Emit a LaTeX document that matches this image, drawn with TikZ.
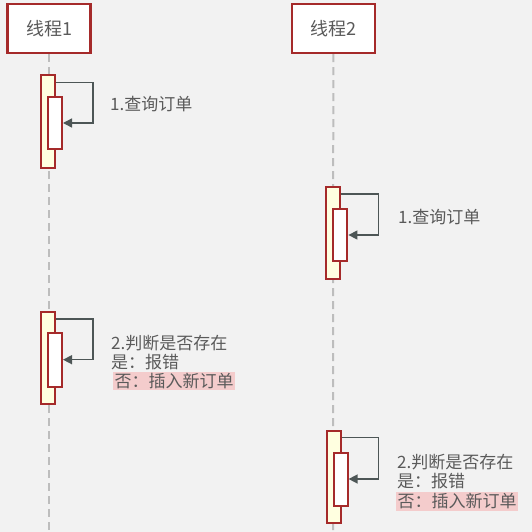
\documentclass[tikz,border=0pt]{standalone}
\usepackage{fontspec}
\setmainfont{Noto Sans CJK SC}
\usetikzlibrary{arrows.meta}
\definecolor{bg}{HTML}{F2F2F2}
\definecolor{bord}{HTML}{A52A2A}
\definecolor{actfill}{HTML}{FFFFE0}
\definecolor{txt}{HTML}{5A5A5A}
\definecolor{arr}{HTML}{4D5656}
\definecolor{life}{HTML}{BDBDBD}
\definecolor{hl}{HTML}{F4CCCC}
\tikzset{
  head/.style={draw=bord, line width=2.2pt, fill=white, minimum width=83pt, minimum height=49pt, inner sep=0pt, text=txt, font=\fontsize{18}{20}\selectfont},
  lifeline/.style={draw=life, line width=2pt, dash pattern=on 8pt off 5pt},
  outer/.style={draw=bord, line width=2pt, fill=actfill, minimum width=14pt, inner sep=0pt},
  inner/.style={draw=bord, line width=2pt, fill=white, minimum width=14pt, inner sep=0pt},
  msg/.style={draw=arr, line width=1.4pt, -{Triangle[length=9pt,width=9pt]}},
  lbl/.style={text=txt, anchor=west, inner sep=0pt, font=\fontsize{17}{20}\selectfont},
  hlbl/.style={lbl, fill=hl, inner xsep=1.5pt, inner ysep=1.5pt}
}
\begin{document}
\begin{tikzpicture}[x=1pt,y=-1pt]
\useasboundingbox[fill=bg] (0,0) rectangle (532,532);
% headers
\node[head] (h1) at (49,28.5) {线程1};
\node[head] (h2) at (333.3,28.5) {线程2};
\coordinate (e1) at (49,532);
\coordinate (e2) at (333,532);
\draw[lifeline] (h1.south) -- (e1);
\draw[lifeline] (h2.south) -- (e2);
% activation 1
\node[outer, minimum height=92pt] (o1) at (48,121.5) {};
\node[inner, minimum height=52pt] (i1) at (55,123) {};
\draw[msg] ([yshift=-8pt]o1.north east) -| ([xshift=30pt]i1.east) -- (i1.east);
\node[lbl] (t1) at (110,104) {1.查询订单};
% activation 2
\node[outer, minimum height=92pt] (o2) at (333.4,233) {};
\node[inner, minimum height=52pt] (i2) at (340.4,235) {};
\draw[msg] ([yshift=-8pt]o2.north east) -| ([xshift=30pt]i2.east) -- (i2.east);
\node[lbl] (t2) at (398,216.7) {1.查询订单};
% activation 3
\node[outer, minimum height=92pt] (o3) at (48,358) {};
\node[inner, minimum height=54pt] (i3) at (55,359.7) {};
\draw[msg] ([yshift=-8pt]o3.north east) -| ([xshift=30pt]i3.east) -- (i3.east);
\node[lbl] (t3a) at (111,342.7) {2.判断是否存在};
\node[lbl] (t3b) at (111,362.2) {是：报错};
\node[hlbl] (t3c) at (113,381) {否：插入新订单};
% activation 4
\node[outer, minimum height=92pt] (o4) at (333.6,476.7) {};
\node[inner, minimum height=53pt] (i4) at (340.6,479) {};
\draw[msg] ([yshift=-8pt]o4.north east) -| ([xshift=30pt]i4.east) -- (i4.east);
\node[lbl] (t4a) at (397,461.7) {2.判断是否存在};
\node[lbl] (t4b) at (397,481.5) {是：报错};
\node[hlbl] (t4c) at (396,501.5) {否：插入新订单};
\end{tikzpicture}
\end{document}
